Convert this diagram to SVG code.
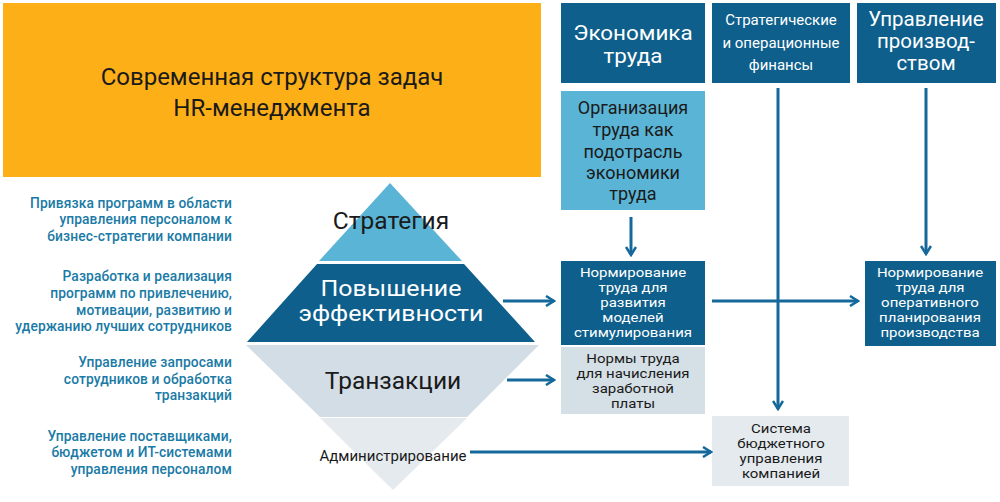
<svg xmlns="http://www.w3.org/2000/svg" width="1000" height="502" viewBox="0 0 1000 502">
<defs>
<style>
text{font-family:Roboto,"Liberation Sans",sans-serif;text-anchor:middle}
.dark{fill:#0E5F8C}
.lb{fill:#5AB4D5}
.desc{fill:#1A7AA6;font-size:13.8px;font-weight:500;text-anchor:end;letter-spacing:0.1px}
.wt{fill:#FFFFFF}
.bk{fill:#1A1A1A}
.sm{font-size:12.8px}
.conn{stroke:#14689A;stroke-width:3;fill:none}
</style>
<marker id="ah" viewBox="0 0 12 12" refX="10" refY="6" markerWidth="4" markerHeight="4" orient="auto" markerUnits="strokeWidth">
<path d="M2,1 L10,6 L2,11" fill="none" stroke="#14689A" stroke-width="2.5"/>
</marker>
</defs>
<rect width="1000" height="502" fill="#FFFFFF"/>

<g id="title">
<rect x="3" y="3" width="538" height="174" fill="#FDAF17"/>
<text x="272" y="85" font-size="24" class="bk">Современная структура задач</text>
<text x="272" y="116" font-size="24" class="bk">HR-менеджмента</text>
</g>

<g id="descriptions">
<text class="desc" x="232" y="208">Привязка программ в области</text>
<text class="desc" x="232" y="224">управления персоналом к</text>
<text class="desc" x="232" y="241">бизнес-стратегии компании</text>
<text class="desc" x="232" y="281">Разработка и реализация</text>
<text class="desc" x="232" y="298">программ по привлечению,</text>
<text class="desc" x="232" y="315">мотивации, развитию и</text>
<text class="desc" x="232" y="331">удержанию лучших сотрудников</text>
<text class="desc" x="232" y="367">Управление запросами</text>
<text class="desc" x="232" y="384">сотрудников и обработка</text>
<text class="desc" x="232" y="400">транзакций</text>
<text class="desc" x="232" y="441">Управление поставщиками,</text>
<text class="desc" x="232" y="457">бюджетом и ИТ-системами</text>
<text class="desc" x="232" y="474">управления персоналом</text>
</g>

<g id="pyramid-strategy">
<polygon points="390,183 462,261 319,261" class="lb"/>
<text x="391" y="229" font-size="24.5" class="bk">Стратегия</text>
</g>
<g id="pyramid-efficiency">
<polygon points="317,264 464,264 535,342 247,342" class="dark"/>
<g transform="translate(391,0) scale(1.16,1)">
<text x="0" y="296" font-size="21.5" class="wt">Повышение</text>
<text x="0" y="321.5" font-size="21.5" class="wt">эффективности</text>
</g>
</g>
<g id="pyramid-transactions">
<polygon points="246,345 539,345 467,417 320,417" fill="#D2DDE5"/>
<text x="393" y="389" font-size="24.5" class="bk">Транзакции</text>
</g>
<g id="pyramid-admin">
<polygon points="320,418 467,418 393,490" fill="#E4EAEE"/>
<text x="393" y="461" font-size="15" class="bk">Администрирование</text>
</g>

<g id="econ">
<rect x="561" y="3" width="144" height="80" class="dark"/>
<g transform="translate(633,0) scale(1.15,1)">
<text x="0" y="40" font-size="19.5" class="wt">Экономика</text>
<text x="0" y="63" font-size="19.5" class="wt">труда</text>
</g>
</g>
<g id="finance">
<rect x="712" y="3" width="138" height="80" class="dark"/>
<text x="781" y="25" font-size="15" class="wt">Стратегические</text>
<text x="781" y="48" font-size="15" class="wt">и операционные</text>
<text x="781" y="70" font-size="15" class="wt">финансы</text>
</g>
<g id="production">
<rect x="857" y="3" width="139" height="80" class="dark"/>
<text x="926" y="26" font-size="20.5" class="wt">Управление</text>
<text x="926" y="48" font-size="20.5" class="wt">производ-</text>
<text x="926" y="70" font-size="20.5" class="wt">ством</text>
</g>
<g id="org">
<rect x="561" y="91" width="144" height="119" class="lb"/>
<text x="633" y="114" font-size="18" class="bk">Организация</text>
<text x="633" y="136" font-size="18" class="bk">труда как</text>
<text x="633" y="158" font-size="18" class="bk">подотрасль</text>
<text x="633" y="179" font-size="18" class="bk">экономики</text>
<text x="633" y="200" font-size="18" class="bk">труда</text>
</g>
<g id="norm-stim">
<rect x="561" y="261" width="144" height="84" class="dark"/>
<g transform="translate(633,0) scale(1.17,1)">
<text x="0" y="277" class="wt sm">Нормирование</text>
<text x="0" y="292" class="wt sm">труда для</text>
<text x="0" y="307" class="wt sm">развития</text>
<text x="0" y="322" class="wt sm">моделей</text>
<text x="0" y="337" class="wt sm">стимулирования</text>
</g>
</g>
<g id="norm-pay">
<rect x="561" y="347" width="144" height="67" fill="#D5DFE6"/>
<g transform="translate(633,0) scale(1.17,1)">
<text x="0" y="363" class="bk sm">Нормы труда</text>
<text x="0" y="378" class="bk sm">для начисления</text>
<text x="0" y="393" class="bk sm">заработной</text>
<text x="0" y="408" class="bk sm">платы</text>
</g>
</g>
<g id="norm-plan">
<rect x="865" y="261" width="131" height="85" class="dark"/>
<g transform="translate(930,0) scale(1.17,1)">
<text x="0" y="277" class="wt sm">Нормирование</text>
<text x="0" y="292" class="wt sm">труда для</text>
<text x="0" y="307" class="wt sm">оперативного</text>
<text x="0" y="322" class="wt sm">планирования</text>
<text x="0" y="337" class="wt sm">производства</text>
</g>
</g>
<g id="budget">
<rect x="712" y="416" width="137" height="70" fill="#E4EAEE"/>
<g transform="translate(781,0) scale(1.17,1)">
<text x="0" y="433" class="bk sm">Система</text>
<text x="0" y="448" class="bk sm">бюджетного</text>
<text x="0" y="463" class="bk sm">управления</text>
<text x="0" y="478" class="bk sm">компанией</text>
</g>
</g>

<g id="connectors">
<line class="conn" x1="631" y1="217" x2="631" y2="255" marker-end="url(#ah)"/>
<line class="conn" x1="778" y1="88" x2="778" y2="409" marker-end="url(#ah)"/>
<line class="conn" x1="926" y1="88" x2="926" y2="254" marker-end="url(#ah)"/>
<line class="conn" x1="712" y1="301" x2="858" y2="301" marker-end="url(#ah)"/>
<line class="conn" x1="503" y1="301" x2="554" y2="301" marker-end="url(#ah)"/>
<line class="conn" x1="507" y1="380" x2="554" y2="380" marker-end="url(#ah)"/>
<line class="conn" x1="470" y1="452" x2="711" y2="452" marker-end="url(#ah)"/>
</g>
</svg>
